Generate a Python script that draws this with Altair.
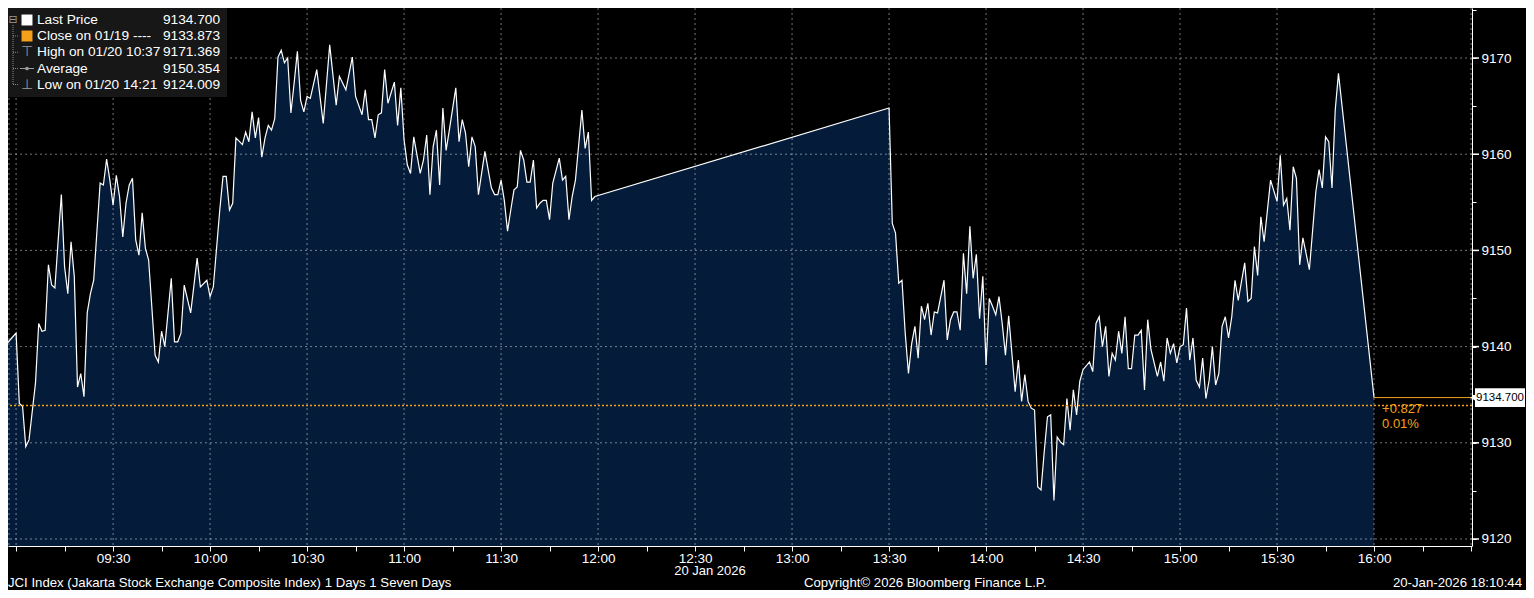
import altair as alt
import pandas as pd

# ---------------- data ----------------
times = [
    "08:55", "09:00", "09:01", "09:02", "09:03", "09:04", "09:06", "09:07", "09:08", "09:09",
    "09:10", "09:11", "09:12", "09:14", "09:15", "09:16", "09:17", "09:18", "09:19", "09:20",
    "09:21", "09:22", "09:23", "09:24", "09:26", "09:27", "09:28", "09:29", "09:30", "09:31",
    "09:32", "09:33", "09:34", "09:35", "09:36", "09:37", "09:38", "09:39", "09:40", "09:41",
    "09:43", "09:44", "09:45", "09:46", "09:48", "09:49", "09:50", "09:51", "09:52", "09:54",
    "09:56", "09:57", "09:59", "10:00", "10:01", "10:03", "10:04", "10:05", "10:06", "10:07",
    "10:08", "10:10", "10:11", "10:12", "10:13", "10:14", "10:15", "10:16", "10:17", "10:18",
    "10:19", "10:20", "10:21", "10:22", "10:23", "10:24", "10:25", "10:26", "10:27", "10:28",
    "10:29", "10:30", "10:31", "10:33", "10:35", "10:37", "10:39", "10:40", "10:42", "10:44",
    "10:45", "10:47", "10:48", "10:49", "10:50", "10:51", "10:52", "10:53", "10:54", "10:55",
    "10:57", "10:58", "10:59", "11:00", "11:01", "11:02", "11:03", "11:04", "11:05", "11:06",
    "11:07", "11:08", "11:09", "11:10", "11:11", "11:12", "11:13", "11:14", "11:16", "11:17",
    "11:18", "11:19", "11:20", "11:21", "11:22", "11:23", "11:25", "11:26", "11:27", "11:28",
    "11:29", "11:30", "11:31", "11:32", "11:33", "11:34", "11:35", "11:36", "11:37", "11:38",
    "11:39", "11:40", "11:41", "11:42", "11:43", "11:44", "11:45", "11:46", "11:48", "11:49",
    "11:50", "11:51", "11:52", "11:53", "11:55", "11:56", "11:57", "11:58", "11:59",
    "13:30", "13:31", "13:32", "13:33", "13:34", "13:35", "13:36", "13:37", "13:38", "13:39",
    "13:40", "13:41", "13:42", "13:43", "13:44", "13:45", "13:47", "13:48", "13:49", "13:50",
    "13:51", "13:52", "13:53", "13:54", "13:55", "13:56", "13:57", "13:58", "13:59", "14:00",
    "14:01", "14:02", "14:03", "14:04", "14:05", "14:06", "14:07", "14:08", "14:09", "14:10",
    "14:11", "14:12", "14:13", "14:14", "14:15", "14:16", "14:17", "14:18", "14:19", "14:20",
    "14:21", "14:22", "14:23", "14:24", "14:25", "14:26", "14:27", "14:28", "14:29", "14:30",
    "14:32", "14:33", "14:34", "14:35", "14:36", "14:37", "14:38", "14:39", "14:40", "14:41",
    "14:42", "14:43", "14:44", "14:45", "14:46", "14:47", "14:48", "14:49", "14:50", "14:51",
    "14:53", "14:54", "14:55", "14:56", "14:57", "14:58", "14:59", "15:00", "15:01", "15:02",
    "15:03", "15:04", "15:05", "15:06", "15:07", "15:08", "15:09", "15:10", "15:11", "15:12",
    "15:13", "15:14", "15:15", "15:16", "15:17", "15:18", "15:20", "15:21", "15:22", "15:23",
    "15:24", "15:25", "15:26", "15:28", "15:30", "15:31", "15:32", "15:33", "15:34", "15:35",
    "15:36", "15:37", "15:38", "15:40", "15:42", "15:43", "15:44", "15:45", "15:46", "15:47",
    "15:48", "15:49", "16:00",
]
prices = [
    9139.5, 9141.4, 9134.1, 9133.8, 9129.6, 9130.3, 9136.2, 9142.4, 9141.6, 9141.7,
    9148.5, 9146.4, 9146.1, 9155.8, 9148.3, 9145.5, 9150.9, 9147.3, 9135.8, 9137.2,
    9134.8, 9143.5, 9145.5, 9146.9, 9157.0, 9156.8, 9159.5, 9157.3, 9154.7, 9157.8,
    9155.6, 9151.4, 9154.9, 9156.8, 9157.5, 9151.1, 9149.5, 9153.9, 9150.2, 9149.0,
    9139.1, 9138.4, 9141.6, 9140.0, 9147.1, 9140.5, 9140.5, 9141.4, 9146.4, 9143.5,
    9149.2, 9146.2, 9146.9, 9145.2, 9146.2, 9154.2, 9157.7, 9157.7, 9154.2, 9154.9,
    9161.7, 9161.0, 9162.3, 9161.3, 9164.4, 9161.7, 9163.8, 9159.7, 9161.7, 9163.0,
    9162.5, 9163.7, 9170.1, 9170.8, 9169.5, 9170.0, 9164.3, 9167.4, 9170.7, 9165.6,
    9164.4, 9166.0, 9165.8, 9168.8, 9163.2, 9171.369, 9165.1, 9168.1, 9166.7, 9170.1,
    9166.0, 9164.1, 9166.7, 9163.6, 9163.6, 9161.7, 9164.1, 9164.3, 9168.8, 9165.3,
    9167.5, 9163.0, 9166.9, 9161.5, 9158.9, 9158.0, 9161.8, 9159.9, 9158.0, 9159.4,
    9162.0, 9155.8, 9160.8, 9162.5, 9156.8, 9164.8, 9160.4, 9162.5, 9166.9, 9161.3,
    9163.6, 9162.2, 9158.7, 9161.8, 9160.8, 9155.8, 9160.3, 9158.4, 9156.5, 9155.8,
    9155.8, 9157.3, 9155.2, 9152.0, 9154.2, 9156.3, 9156.6, 9160.4, 9159.4, 9157.1,
    9157.1, 9159.4, 9154.4, 9154.9, 9155.2, 9155.2, 9153.2, 9157.0, 9159.6, 9157.3,
    9157.7, 9153.2, 9155.6, 9157.3, 9164.6, 9160.6, 9162.3, 9155.2, 9155.6,
    9164.8, 9152.8, 9151.8, 9146.6, 9146.9, 9141.4, 9137.2, 9140.3, 9142.1, 9138.8,
    9144.2, 9142.8, 9144.5, 9141.2, 9143.6, 9143.5, 9146.9, 9140.7, 9142.8, 9143.6,
    9143.6, 9141.7, 9149.7, 9145.5, 9152.5, 9147.1, 9149.6, 9142.9, 9147.3, 9138.1,
    9145.0, 9144.2, 9143.3, 9145.2, 9142.4, 9139.1, 9143.2, 9139.3, 9135.3, 9138.6,
    9134.3, 9137.1, 9134.3, 9133.6, 9133.4, 9125.4, 9125.1, 9129.1, 9132.7, 9132.9,
    9124.009, 9130.6, 9130.1, 9129.8, 9134.6, 9131.3, 9135.5, 9132.9, 9136.4, 9137.6,
    9138.4, 9137.4, 9142.4, 9143.1, 9140.0, 9142.1, 9136.9, 9139.3, 9138.6, 9141.6,
    9139.3, 9143.1, 9137.7, 9137.7, 9141.2, 9141.2, 9141.7, 9135.5, 9142.8, 9139.7,
    9136.9, 9138.4, 9136.4, 9140.9, 9139.3, 9140.3, 9138.3, 9140.0, 9140.2, 9144.0,
    9138.6, 9140.9, 9136.5, 9135.8, 9138.8, 9134.6, 9136.5, 9140.0, 9136.0, 9137.2,
    9142.1, 9143.1, 9140.9, 9143.1, 9146.9, 9144.8, 9148.7, 9144.7, 9145.0, 9150.4,
    9147.4, 9153.5, 9150.9, 9157.3, 9155.1, 9159.9, 9154.7, 9155.4, 9152.1, 9158.7,
    9157.5, 9148.5, 9151.3, 9148.0, 9156.1, 9158.4, 9156.5, 9161.8, 9161.3, 9156.5,
    9164.6, 9168.4, 9134.7,
]

LAST = 9134.700
CLOSE = 9133.873
legend_labels = ["Last Price", "Close on 01/19 ----", "High on 01/20 10:37", "Average", "Low on 01/20 14:21"]
legend_values = ["9134.700", "9133.873", "9171.369", "9150.354", "9124.009"]
change_text = ["+0.827", "0.01%"]
date_label = "20 Jan 2026"
footer_left = "JCI Index (Jakarta Stock Exchange Composite Index) 1 Days 1 Seven Days"
footer_mid = "Copyright\u00a9 2026 Bloomberg Finance L.P."
footer_right = "20-Jan-2026 18:10:44"

x_tick_values = list(range(0, 451, 15))   # minutes after 09:00
x_grid_values = list(range(0, 451, 30))
y_tick_values = list(range(9120, 9176, 5))
y_grid_values = list(range(9120, 9171, 10))

# ---------------- styling ----------------
PW, PH = 1464, 538
XMIN, XMAX = -2.5, 450.3
YMIN, YMAX = 9119.27, 9175.2
FONT = "Liberation Sans"
FILL = "#041c3a"
ORANGE = "#f5a01a"
GRID = "#ffffff"


def to_min(s):
    h, m = s.split(":")
    return (int(h) - 9) * 60 + int(m)


df = pd.DataFrame({"t": [to_min(s) for s in times], "price": prices})
one = pd.DataFrame({"d": [0]})

xscale = alt.Scale(domain=[XMIN, XMAX], nice=False, zero=False)
yscale = alt.Scale(domain=[YMIN, YMAX], nice=False, zero=False)

x_label_expr = (
    "(datum.value % 30 == 0 && datum.value >= 30 && datum.value <= 420) ? "
    "format(floor(datum.value / 60) + 9, '02d') + ':' + format(datum.value % 60, '02d') : ''"
)

xaxis = alt.Axis(
    values=x_tick_values, labelExpr=x_label_expr, grid=False, title=None,
    domainColor="white", tickColor="white", tickSize=5, labelColor="white",
    labelFont=FONT, labelFontSize=13.5, labelPadding=0, labelFlush=False,
    labelOverlap=False,
)
yaxis = alt.Axis(
    orient="right", values=y_tick_values, format="d",
    labelExpr="datum.value % 10 == 0 ? datum.label : ''",
    grid=False, title=None, domainColor="white", tickColor="white", tickSize=4,
    labelColor="white", labelFont=FONT, labelFontSize=13.5, labelPadding=5,
    labelOverlap=False,
)

base = alt.Chart(df)

area = base.mark_area(color=FILL, clip=True).encode(
    x=alt.X("t:Q", scale=xscale, axis=xaxis),
    y=alt.Y("price:Q", scale=yscale, axis=yaxis),
    y2=alt.datum(YMIN),
)

vgrid = alt.Chart(pd.DataFrame({"t": [XMIN + 0.3] + x_grid_values})).mark_rule(
    color=GRID, opacity=0.45, strokeDash=[2, 3], strokeWidth=1
).encode(x="t:Q")

hgrid = alt.Chart(pd.DataFrame({"price": y_grid_values})).mark_rule(
    color=GRID, opacity=0.45, strokeDash=[2, 3], strokeWidth=1
).encode(y="price:Q")

major_ticks = alt.Chart(pd.DataFrame({"price": y_grid_values})).mark_rule(
    color="white", strokeWidth=1.5
).encode(y="price:Q", x=alt.value(PW), x2=alt.value(PW + 7))

line = base.mark_line(color="white", strokeWidth=1.2, clip=True).encode(
    x="t:Q", y="price:Q"
)

close_rule = alt.Chart(one).mark_rule(
    color=ORANGE, strokeDash=[2, 2], strokeWidth=1.5
).encode(y=alt.datum(CLOSE))

last_rule = alt.Chart(one).mark_rule(color=ORANGE, strokeWidth=1).encode(
    x=alt.datum(420), x2=alt.datum(XMAX), y=alt.datum(LAST)
)

change_lbl = alt.Chart(one).mark_text(
    color=ORANGE, font=FONT, fontSize=13, align="left", baseline="top",
    lineHeight=15, dx=8, dy=-3,
).encode(x=alt.datum(420), y=alt.datum(CLOSE), text=alt.value(change_text))

price_box = alt.Chart(one).mark_rect(color="white").encode(
    x=alt.value(PW + 3), x2=alt.value(PW + 53),
    y=alt.datum(LAST + 0.98), y2=alt.datum(LAST - 0.98),
)
price_ptr = alt.Chart(one).mark_point(
    shape="triangle-left", filled=True, color="white", size=45, opacity=1
).encode(x=alt.value(PW + 1), y=alt.datum(LAST))
price_txt = alt.Chart(one).mark_text(
    color="black", font=FONT, fontSize=11.5, align="center", baseline="middle"
).encode(x=alt.value(PW + 28), y=alt.datum(LAST), text=alt.value(legend_values[0]))

# legend panel
legend_box = alt.Chart(one).mark_rect(color="#171717").encode(
    x=alt.value(0), x2=alt.value(219), y=alt.value(0), y2=alt.value(89)
)
row_y = [12, 28, 44.3, 60.5, 76.5]
layers_legend = [legend_box]
tree = alt.Chart(one).mark_rule(color="#8a8a8a", strokeDash=[1, 1]).encode(
    x=alt.value(5), y=alt.value(row_y[0] + 5), y2=alt.value(row_y[4])
)
layers_legend.append(tree)
for ry in row_y[1:]:
    layers_legend.append(
        alt.Chart(one).mark_rule(color="#8a8a8a", strokeDash=[1, 1]).encode(
            x=alt.value(5), x2=alt.value(10), y=alt.value(ry)
        )
    )
layers_legend.append(
    alt.Chart(one).mark_text(color="#9a9a9a", font="DejaVu Sans", fontSize=11).encode(
        x=alt.value(5), y=alt.value(row_y[0]), text=alt.value("\u229f")
    )
)
layers_legend.append(
    alt.Chart(one).mark_point(shape="square", filled=True, color="white", size=120, opacity=1).encode(
        x=alt.value(19), y=alt.value(row_y[0])
    )
)
layers_legend.append(
    alt.Chart(one).mark_point(shape="square", filled=True, color=ORANGE, size=120, opacity=1).encode(
        x=alt.value(19), y=alt.value(row_y[1])
    )
)
layers_legend.append(
    alt.Chart(one).mark_text(color="#9a9a9a", font="DejaVu Sans", fontSize=14).encode(
        x=alt.value(19), y=alt.value(row_y[2]), text=alt.value("\u22a4")
    )
)
layers_legend.append(
    alt.Chart(one).mark_rule(color="#9a9a9a").encode(
        x=alt.value(12), x2=alt.value(26), y=alt.value(row_y[3])
    )
)
layers_legend.append(
    alt.Chart(one).mark_point(shape="circle", filled=True, color="#9a9a9a", size=14, opacity=1).encode(
        x=alt.value(19), y=alt.value(row_y[3])
    )
)
layers_legend.append(
    alt.Chart(one).mark_text(color="#9a9a9a", font="DejaVu Sans", fontSize=14).encode(
        x=alt.value(19), y=alt.value(row_y[4]), text=alt.value("\u22a5")
    )
)
for i, ry in enumerate(row_y):
    layers_legend.append(
        alt.Chart(one).mark_text(
            color="white", font=FONT, fontSize=13.7, align="left", baseline="middle"
        ).encode(x=alt.value(29), y=alt.value(ry), text=alt.value(legend_labels[i]))
    )
    layers_legend.append(
        alt.Chart(one).mark_text(
            color="white", font=FONT, fontSize=13.7, align="right", baseline="middle"
        ).encode(x=alt.value(212), y=alt.value(ry), text=alt.value(legend_values[i]))
    )

# bottom texts
date_txt = alt.Chart(one).mark_text(
    color="white", font=FONT, fontSize=13, align="center", baseline="middle"
).encode(x=alt.value(702), y=alt.value(563), text=alt.value(date_label))
foot1 = alt.Chart(one).mark_text(
    color="white", font=FONT, fontSize=13.2, align="left", baseline="middle"
).encode(x=alt.value(0), y=alt.value(575), text=alt.value(footer_left))
foot2 = alt.Chart(one).mark_text(
    color="white", font=FONT, fontSize=13.2, align="left", baseline="middle"
).encode(x=alt.value(796), y=alt.value(575), text=alt.value(footer_mid))
foot3 = alt.Chart(one).mark_text(
    color="white", font=FONT, fontSize=13.2, align="right", baseline="middle"
).encode(x=alt.value(1514), y=alt.value(575), text=alt.value(footer_right))

chart = alt.layer(
    area, vgrid, hgrid, line, close_rule, last_rule, major_ticks, change_lbl,
    price_box, price_ptr, price_txt, *layers_legend, date_txt, foot1, foot2, foot3,
).properties(
    width=PW, height=PH,
    background="black",
    padding={"left": 0, "top": 0, "right": 54, "bottom": 44},
    autosize=alt.AutoSizeParams(type="none"),
).configure_view(stroke=None)

chart.save("out.html", embed_options={"renderer": "svg", "actions": False})
